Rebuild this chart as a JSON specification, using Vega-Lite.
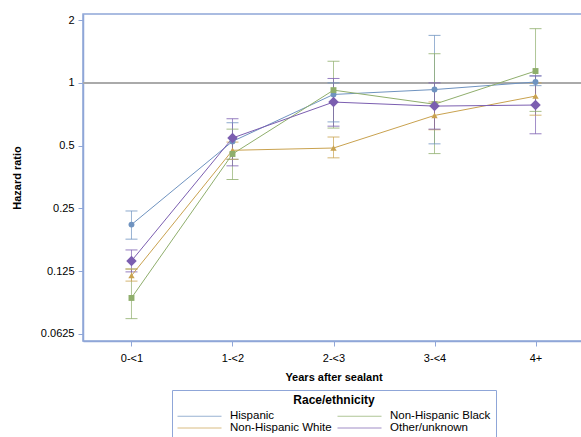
{
  "$schema": "https://vega.github.io/schema/vega-lite/v6.json",
  "autosize": "none",
  "width": 501,
  "height": 327,
  "padding": {"left": 83, "top": 14, "right": 0, "bottom": 96},
  "config": {
    "font": "Liberation Sans",
    "view": {"stroke": "#8fa6d8", "strokeWidth": 1.5},
    "axis": {"domainColor": "#8fa6d8", "domainWidth": 1.5, "tickColor": "#8fa6d8", "labelFontSize": 11, "labelColor": "#000", "titleFontSize": 11, "titleColor": "#000", "grid": false}
  },
  "data": {"values": [
    {"group": "Hispanic", "period": "0-<1", "hr": 0.209, "lo": 0.178, "hi": 0.243},
    {"group": "Hispanic", "period": "1-<2", "hr": 0.524, "lo": 0.43, "hi": 0.644},
    {"group": "Hispanic", "period": "2-<3", "hr": 0.88, "lo": 0.65, "hi": 1.0},
    {"group": "Hispanic", "period": "3-<4", "hr": 0.929, "lo": 0.51, "hi": 1.69},
    {"group": "Hispanic", "period": "4+", "hr": 1.01, "lo": 0.97, "hi": 1.08},
    {"group": "Non-Hispanic Black", "period": "0-<1", "hr": 0.093, "lo": 0.074, "hi": 0.128},
    {"group": "Non-Hispanic Black", "period": "1-<2", "hr": 0.456, "lo": 0.344, "hi": 0.6},
    {"group": "Non-Hispanic Black", "period": "2-<3", "hr": 0.923, "lo": 0.607, "hi": 1.27},
    {"group": "Non-Hispanic Black", "period": "3-<4", "hr": 0.79, "lo": 0.458, "hi": 1.38},
    {"group": "Non-Hispanic Black", "period": "4+", "hr": 1.14, "lo": 0.73, "hi": 1.82},
    {"group": "Non-Hispanic White", "period": "0-<1", "hr": 0.119, "lo": 0.112, "hi": 0.128},
    {"group": "Non-Hispanic White", "period": "1-<2", "hr": 0.475, "lo": 0.43, "hi": 0.52},
    {"group": "Non-Hispanic White", "period": "2-<3", "hr": 0.487, "lo": 0.437, "hi": 0.55},
    {"group": "Non-Hispanic White", "period": "3-<4", "hr": 0.698, "lo": 0.596, "hi": 0.81},
    {"group": "Non-Hispanic White", "period": "4+", "hr": 0.864, "lo": 0.70, "hi": 1.0},
    {"group": "Other/unknown", "period": "0-<1", "hr": 0.14, "lo": 0.124, "hi": 0.158},
    {"group": "Other/unknown", "period": "1-<2", "hr": 0.544, "lo": 0.40, "hi": 0.673},
    {"group": "Other/unknown", "period": "2-<3", "hr": 0.809, "lo": 0.62, "hi": 1.05},
    {"group": "Other/unknown", "period": "3-<4", "hr": 0.774, "lo": 0.6, "hi": 1.0},
    {"group": "Other/unknown", "period": "4+", "hr": 0.783, "lo": 0.57, "hi": 1.08}
  ]},
  "encoding": {
    "x": {"field": "period", "type": "ordinal", "sort": ["0-<1", "1-<2", "2-<3", "3-<4", "4+"],
      "scale": {"type": "point", "padding": 0.48},
      "axis": {"title": "Years after sealant", "labelAngle": 0, "labelPadding": 6, "titlePadding": 8, "tickSize": 5}},
    "color": {"field": "group", "type": "nominal",
      "scale": {"domain": ["Hispanic", "Non-Hispanic White", "Non-Hispanic Black", "Other/unknown"], "range": ["#6f93c0", "#c9a24f", "#8fae6c", "#7b5eb0"]},
      "legend": {"title": "Race/ethnicity", "orient": "none", "legendX": 89, "legendY": 376, "columns": 2, "symbolType": "M-1,0H7", "symbolSize": 121, "symbolStrokeWidth": 1, "symbolFillColor": "transparent", "titleAnchor": "middle", "titleFontSize": 12, "labelFontSize": 11.5, "labelColor": "#000", "titleColor": "#000", "strokeColor": "#8fa6d8", "padding": 5, "columnPadding": 3, "rowPadding": 0, "titlePadding": 3, "labelLimit": 200, "labelOffset": 41}}
  },
  "layer": [
    {"mark": {"type": "rule", "color": "#aaaaaa", "strokeWidth": 1.5}, "encoding": {"x": null, "color": null, "y": {"datum": 1, "type": "quantitative"}}},
    {"mark": {"type": "rule", "strokeWidth": 1, "opacity": 0.7}, "encoding": {
      "y": {"field": "lo", "type": "quantitative"}, "y2": {"field": "hi"}}},
    {"mark": {"type": "tick", "orient": "horizontal", "size": 12, "thickness": 1, "opacity": 0.8}, "encoding": {"y": {"field": "lo", "type": "quantitative"}}},
    {"mark": {"type": "tick", "orient": "horizontal", "size": 12, "thickness": 1, "opacity": 0.8}, "encoding": {"y": {"field": "hi", "type": "quantitative"}}},
    {"mark": {"type": "line", "strokeWidth": 1}, "encoding": {
      "y": {"field": "hr", "type": "quantitative",
        "scale": {"type": "log", "base": 2, "domain": [0.0578, 2.14], "nice": false, "zero": false},
        "axis": {"title": "Hazard ratio", "values": [0.0625, 0.125, 0.25, 0.5, 1, 2], "format": "~g", "tickSize": 5, "labelPadding": 4, "titlePadding": 18}}}},
    {"transform": [{"filter": "datum.group === 'Hispanic'"}], "mark": {"type": "point", "filled": true, "opacity": 1, "shape": "circle", "size": 35}, "encoding": {"y": {"field": "hr", "type": "quantitative"}}},
    {"transform": [{"filter": "datum.group === 'Non-Hispanic White'"}], "mark": {"type": "point", "filled": true, "opacity": 1, "shape": "triangle-up", "size": 40}, "encoding": {"y": {"field": "hr", "type": "quantitative"}}},
    {"transform": [{"filter": "datum.group === 'Non-Hispanic Black'"}], "mark": {"type": "point", "filled": true, "opacity": 1, "shape": "square", "size": 35}, "encoding": {"y": {"field": "hr", "type": "quantitative"}}},
    {"transform": [{"filter": "datum.group === 'Other/unknown'"}], "mark": {"type": "point", "filled": true, "opacity": 1, "shape": "diamond", "size": 110}, "encoding": {"y": {"field": "hr", "type": "quantitative"}}}
  ]
}
